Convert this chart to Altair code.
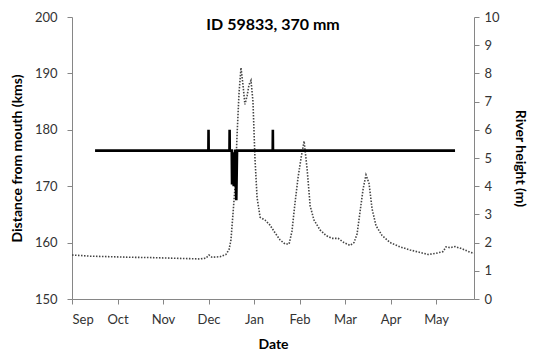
import altair as alt
import pandas as pd

months = ["Sep", "Oct", "Nov", "Dec", "Jan", "Feb", "Mar", "Apr", "May"]
tick_days = [0, 30, 60, 90, 120, 150, 180, 210, 240]

# River height (m), right axis
height_day = [0, 11.9, 25, 38, 51, 64.6, 77.8, 84.4, 88.3, 90.3, 92.3, 97.6, 101.5,
              103.5, 104.8, 106.1, 107.5, 108.8, 110.1, 111.4, 112.7, 114, 115.4,
              116.7, 118, 119.3, 120.6, 122, 124, 127.2, 130.5, 133.8, 137.1, 140.4,
              143.1, 145, 147, 149, 151, 153, 155, 157, 159.5, 163.5, 167.5, 171.4,
              175.4, 179.3, 183.3, 185.9, 187.9, 189.9, 191.9, 193.8, 195.8, 197.8,
              200.4, 204.4, 209.7, 216.2, 222.8, 229.4, 234.7, 240, 244.6, 246.6,
              249.2, 252.5, 257.1, 262.4, 265]
height_m = [1.56, 1.52, 1.50, 1.48, 1.47, 1.45, 1.43, 1.42, 1.45, 1.56, 1.48, 1.50, 1.58,
            1.75, 2.1, 3.0, 4.0, 5.8, 7.3, 8.2, 7.6, 6.9, 7.2,
            7.6, 7.75, 7.0, 5.0, 3.6, 2.9, 2.8, 2.62, 2.35, 2.1, 1.95,
            1.95, 2.4, 3.4, 4.3, 5.0, 5.6, 4.6, 3.3, 2.8, 2.45, 2.25, 2.15,
            2.15, 2.0, 1.9, 2.0, 2.3, 3.1, 3.9, 4.4, 4.1, 3.2,
            2.6, 2.25, 2.0, 1.85, 1.74, 1.65, 1.58, 1.62, 1.68, 1.85,
            1.82, 1.86, 1.78, 1.66, 1.62]

# Distance from mouth (km), left axis
dist_day = [15.2, 60, 89.9, 90.0, 90.1, 103.8, 103.9, 104.0, 105.3, 105.5, 106.0,
            106.6, 107.5, 108.3, 108.8, 110.5, 132.3, 132.4, 132.5, 252.5]
dist_km = [176.3, 176.3, 176.3, 180.0, 176.3, 176.3, 180.0, 176.3, 176.3, 170.3, 176.0,
           170.0, 176.5, 167.5, 176.3, 176.3, 176.3, 180.0, 176.3, 176.3]

hdf = pd.DataFrame({"day": height_day, "h": height_m})
ddf = pd.DataFrame({"day": dist_day, "d": dist_km, "i": list(range(len(dist_day)))})

FONT = "Lato"
label_expr = "[" + ",".join("'%s'" % m for m in months) + "][round(datum.value/30)]"

xenc = alt.X("day:Q", scale=alt.Scale(domain=[0, 265], nice=False, zero=False),
             axis=alt.Axis(values=tick_days, labelExpr=label_expr, title="Date",
                           grid=False, domainColor="#868686", tickColor="#868686",
                           tickSize=5, labelPadding=9, titlePadding=11))

dist = alt.Chart(ddf).mark_line(color="black", strokeWidth=2.6, strokeJoin="miter").encode(
    x=xenc,
    y=alt.Y("d:Q", scale=alt.Scale(domain=[150, 200], nice=False, zero=False),
            axis=alt.Axis(values=[150, 160, 170, 180, 190, 200], title="Distance from mouth (kms)",
                          grid=False, domainColor="#868686", tickColor="#868686",
                          tickSize=5, labelPadding=10, titlePadding=10)),
    order="i:Q",
)

river = alt.Chart(hdf).mark_line(color="#444444", strokeWidth=1.6, strokeDash=[1.5, 1.5]).encode(
    x=alt.X("day:Q"),
    y=alt.Y("h:Q", scale=alt.Scale(domain=[0, 10], nice=False, zero=False),
            axis=alt.Axis(orient="right", values=list(range(11)), title="River height (m)",
                          grid=False, domainColor="#868686", tickColor="#868686",
                          tickSize=5, labelPadding=5, titlePadding=13)),
)

chart = alt.layer(river, dist).resolve_scale(y="independent").properties(
    width=402, height=282,
    title=alt.TitleParams("ID 59833, 370 mm", fontSize=16, fontWeight="bold", font=FONT,
                          offset=-22, anchor="middle", color="black"),
    padding={"left": 72, "top": 17, "right": 61, "bottom": 59},
    autosize=alt.AutoSizeParams(type="none"),
).configure_view(stroke=None).configure_axis(
    labelFont=FONT, titleFont=FONT, labelFontSize=13, titleFontSize=14,
    titleFontWeight="bold", labelColor="#333333", titleColor="black",
)

chart.save("out.html", embed_options={"renderer": "svg", "actions": False})
